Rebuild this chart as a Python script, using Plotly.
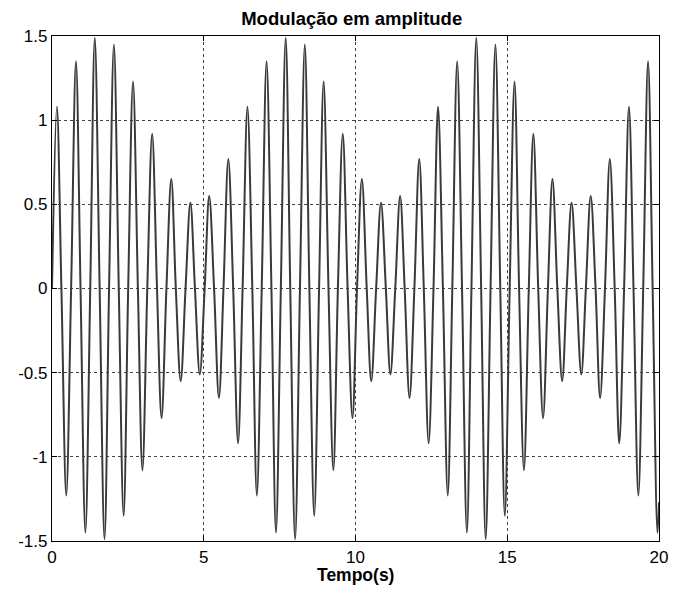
import plotly.graph_objects as go

# Values
peak_t = [0.16, 0.79, 1.41, 2.04, 2.67, 3.30, 3.93, 4.56, 5.18, 5.81,
          6.44, 7.07, 7.70, 8.33, 8.95, 9.58, 10.21, 10.84, 11.47, 12.10,
          12.72, 13.35, 13.98, 14.61, 15.24, 15.86, 16.49, 17.12, 17.75, 18.38,
          19.01, 19.64]
peak_v = [1.08, 1.35, 1.49, 1.45, 1.23, 0.92, 0.65, 0.51, 0.55, 0.77,
          1.08, 1.35, 1.49, 1.45, 1.23, 0.92, 0.65, 0.51, 0.55, 0.77,
          1.08, 1.35, 1.49, 1.45, 1.23, 0.92, 0.65, 0.51, 0.55, 0.77,
          1.08, 1.35]
trough_t = [0.47, 1.10, 1.73, 2.36, 2.98, 3.61, 4.24, 4.87, 5.50, 6.13,
            6.75, 7.38, 8.01, 8.64, 9.27, 9.90, 10.52, 11.15, 11.78, 12.41,
            13.04, 13.67, 14.29, 14.92, 15.55, 16.18, 16.81, 17.44, 18.06, 18.69,
            19.32, 19.95]
trough_v = [-1.23, -1.45, -1.49, -1.35, -1.08, -0.77, -0.55, -0.51, -0.65, -0.92,
            -1.23, -1.45, -1.49, -1.35, -1.08, -0.77, -0.55, -0.51, -0.65, -0.92,
            -1.23, -1.45, -1.49, -1.35, -1.08, -0.77, -0.55, -0.51, -0.65, -0.92,
            -1.23, -1.45]
zero_t = [0.00, 0.31, 0.63, 0.94, 1.26, 1.57, 1.88, 2.20, 2.51, 2.83,
          3.14, 3.46, 3.77, 4.08, 4.40, 4.71, 5.03, 5.34, 5.65, 5.97,
          6.28, 6.60, 6.91, 7.23, 7.54, 7.85, 8.17, 8.48, 8.80, 9.11,
          9.42, 9.74, 10.05, 10.37, 10.68, 11.00, 11.31, 11.62, 11.94, 12.25,
          12.57, 12.88, 13.19, 13.51, 13.82, 14.14, 14.45, 14.77, 15.08, 15.39,
          15.71, 16.02, 16.34, 16.65, 16.96, 17.28, 17.59, 17.91, 18.22, 18.54,
          18.85, 19.16, 19.48, 19.79]
end_t = [20.0]
end_v = [-1.27]

x_ticks = [0, 5, 10, 15, 20]
y_ticks = [-1.5, -1, -0.5, 0, 0.5, 1, 1.5]
y_tick_text = ["-1.5", "-1", "-0.5", "0", "0.5", "1", "1.5"]

pts = ([(t, v) for t, v in zip(peak_t, peak_v)]
       + [(t, v) for t, v in zip(trough_t, trough_v)]
       + [(t, 0.0) for t in zero_t]
       + [(t, v) for t, v in zip(end_t, end_v)])
pts.sort(key=lambda p: p[0])
xs = [p[0] for p in pts]
ys = [p[1] for p in pts]

font_family = "Liberation Sans, Arial, sans-serif"

W, H = 676, 581  # page body has an 8px margin inside the 684x589 window

fig = go.Figure()
fig.add_trace(go.Scatter(
    x=xs, y=ys, mode="lines",
    line=dict(color="#3a3a3a", width=2, shape="spline", smoothing=1),
    showlegend=False, hoverinfo="skip",
))

axis_common = dict(
    showline=True, linecolor="black", linewidth=1.2, mirror="ticks",
    ticks="inside", ticklen=5, tickcolor="black", tickwidth=1,
    showgrid=True, gridcolor="#444444", griddash="dot", gridwidth=1,
    zeroline=False, automargin=False,
    tickfont=dict(family=font_family, size=17, color="black"),
)

fig.update_layout(
    width=W, height=H,
    margin=dict(l=44, r=25, t=28, b=48),
    paper_bgcolor="white", plot_bgcolor="white",
    title=dict(text="<b>Modulação em amplitude</b>", x=343.7 / W, xanchor="center",
               y=1 - 11 / H, yanchor="middle",
               font=dict(family=font_family, size=18.5, color="black")),
    xaxis=dict(range=[0, 20], tickvals=x_ticks, ticktext=[str(v) for v in x_ticks],
               **axis_common),
    yaxis=dict(range=[-1.5, 1.5], tickvals=y_ticks, ticktext=y_tick_text,
               **axis_common),
    annotations=[dict(text="<b>Tempo(s)</b>", xref="paper", yref="paper",
                      x=0.5, y=-(567 - 533) / 505, xanchor="center", yanchor="middle",
                      showarrow=False,
                      font=dict(family=font_family, size=17.5, color="black"))],
)

fig.write_html("out.html")
